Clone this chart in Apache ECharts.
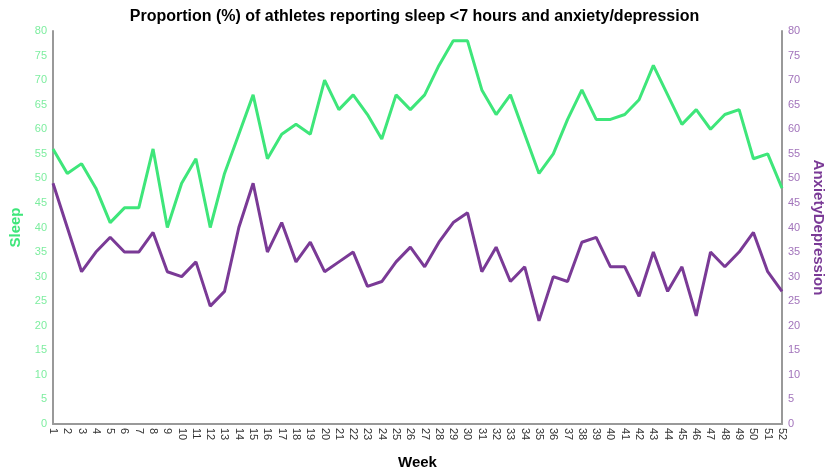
<!DOCTYPE html>
<html><head><meta charset="utf-8">
<script src="https://cdn.jsdelivr.net/npm/echarts@6/dist/echarts.min.js"></script>
<style>html,body{margin:0;padding:0;background:#fff}#c{width:829px;height:471px}</style>
</head><body><div id="c"></div>
<script>
const weeks = Array.from({length:52},(_,i)=>String(i+1));
const sleep = [56,51,53,48,41,44,44,56,40,49,54,40,51,59,67,54,59,61,59,70,64,67,63,58,67,64,67,73,78,78,68,63,67,59,51,55,62,68,62,62,63,66,73,67,61,64,60,63,64,54,55,48];
const anxietyDepression = [49,40,31,35,38,35,35,39,31,30,33,24,27,40,49,35,41,33,37,31,33,35,28,29,33,36,32,37,41,43,31,36,29,32,21,30,29,37,38,32,32,26,35,27,32,22,35,32,35,39,31,27];
const green = '#3ee67a', purple = '#7a3a96';
const font = 'Liberation Sans, Arial, sans-serif';
const chart = echarts.init(document.getElementById('c'), null, {renderer:'canvas'});
chart.setOption({
  animation:false,
  title:{text:'Proportion (%) of athletes reporting sleep <7 hours and anxiety/depression', left:'center', top:4,
    textStyle:{fontFamily:font, fontSize:16, fontWeight:'bold', color:'#000'}},
  grid:{left:53, right:47, top:31, bottom:47, containLabel:false, outerBoundsMode:'none'},
  xAxis:{type:'category', data:weeks, boundaryGap:false, name:'Week', nameLocation:'middle', nameGap:31,
    nameTextStyle:{fontFamily:font, fontSize:15, fontWeight:'bold', color:'#000'},
    axisLine:{lineStyle:{color:'#999', width:2}}, axisTick:{show:false},
    axisLabel:{rotate:-90, interval:0, fontFamily:font, fontSize:11, color:'#333', margin:4}},
  yAxis:[
    {type:'value', min:0, max:80, interval:5, position:'left', name:'Sleep', nameLocation:'middle', nameGap:30,
     nameTextStyle:{fontFamily:font, fontSize:15, fontWeight:'bold', color:green},
     axisLine:{show:true, lineStyle:{color:'#999', width:2}}, axisTick:{show:false}, splitLine:{show:false},
     axisLabel:{fontFamily:font, fontSize:11, color:'#7ded9f', margin:6}},
    {type:'value', min:0, max:80, interval:5, position:'right', name:'AnxietyDepression', nameLocation:'middle', nameGap:28, nameRotate:-90,
     nameTextStyle:{fontFamily:font, fontSize:15, fontWeight:'bold', color:purple},
     axisLine:{show:true, lineStyle:{color:'#999', width:2}}, axisTick:{show:false}, splitLine:{show:false},
     axisLabel:{fontFamily:font, fontSize:11, color:'#a274bb', margin:6}}
  ],
  series:[
    {type:'line', name:'Sleep', data:sleep, yAxisIndex:0, symbol:'none', lineStyle:{color:green, width:3}},
    {type:'line', name:'AnxietyDepression', data:anxietyDepression, yAxisIndex:1, symbol:'none', lineStyle:{color:purple, width:3}}
  ]
});
</script></body></html>
